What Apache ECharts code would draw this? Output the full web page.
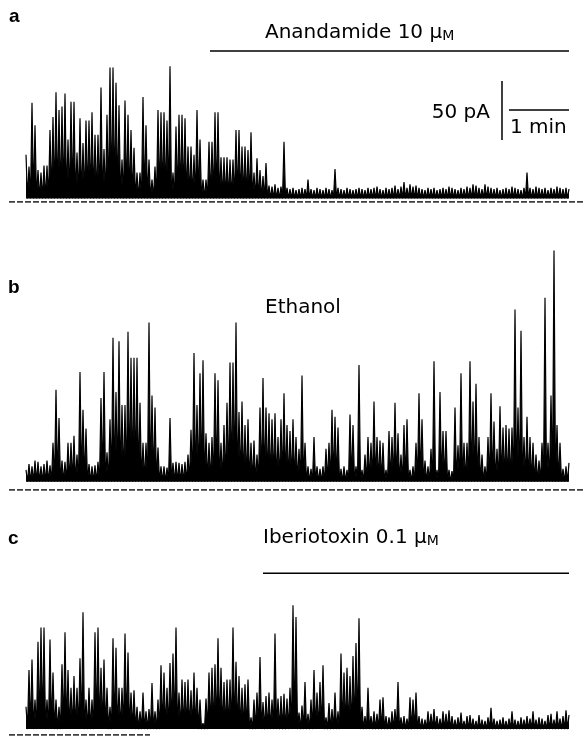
<!DOCTYPE html>
<html><head><meta charset="utf-8">
<script src="https://cdn.jsdelivr.net/npm/echarts@6/dist/echarts.min.js"></script>
<style>html,body{margin:0;padding:0;background:#fff}#c{width:585px;height:737px}</style>
</head><body><div id="c"></div>
<script>
// time step between read-off samples (s); current in pA
const sampleStep = 3;
const traceA = [40,30,84,65,27,25,31,31,61,72,93,78,81,92,53,85,85,42,71,50,
  69,69,76,57,57,97,45,74,114,114,101,82,36,86,74,61,46,25,25,89,
  65,36,19,30,78,76,76,69,115,25,64,74,74,71,47,47,40,78,53,19,
  19,51,51,76,76,38,38,38,36,36,61,61,47,47,44,59,25,37,27,22,
  33,14,13,15,12,13,51,12,11,12,10,11,12,11,19,11,10,12,11,10,
  12,11,10,28,12,11,10,12,11,10,11,12,11,10,12,11,12,13,11,10,
  12,11,12,14,11,13,17,12,15,13,14,12,11,10,12,11,12,10,11,12,
  11,13,12,11,10,12,11,13,12,15,14,12,11,15,13,12,11,12,10,11,
  12,11,13,12,11,10,12,25,12,11,13,12,11,12,10,12,11,13,12,11,12,11];
const traceB = [17,22,20,25,24,20,22,25,21,40,85,61,25,24,40,40,46,30,100,68,
  52,22,20,21,24,78,100,32,60,129,83,126,72,72,134,112,112,112,74,40,
  40,142,80,70,36,20,20,19,61,23,24,23,22,24,30,51,116,72,99,110,
  48,40,45,99,93,40,55,74,108,108,142,66,75,55,60,40,42,30,70,95,
  70,65,60,65,45,60,82,55,50,60,45,35,97,40,20,18,45,20,18,20,
  35,40,68,62,53,18,20,17,64,55,20,106,17,30,45,40,75,45,42,40,
  17,50,45,74,48,30,55,60,17,20,40,82,60,25,20,35,109,17,83,50,
  50,17,16,70,38,99,40,40,109,75,90,45,30,20,45,82,58,35,71,53,
  55,52,53,153,70,135,45,62,45,40,30,25,40,163,40,80,203,55,40,18,20,23];
const traceC = [24,55,64,30,79,91,91,30,81,53,30,24,60,87,55,40,50,40,65,104,
  30,40,30,87,91,57,64,40,24,82,74,40,40,86,70,36,38,24,20,36,
  20,22,44,20,30,59,53,40,61,69,91,36,47,45,47,38,53,40,30,10,
  31,53,57,60,82,57,45,47,47,91,62,50,40,43,47,15,30,36,66,28,
  33,36,30,86,31,33,35,31,40,110,100,19,25,45,18,30,55,36,45,59,
  15,27,22,36,20,69,53,57,50,67,78,99,24,16,40,16,20,18,30,32,
  16,15,20,22,45,15,16,14,32,30,36,16,14,13,20,18,22,16,14,20,
  18,21,16,13,15,19,12,16,17,14,12,17,13,12,15,23,14,12,13,15,
  12,14,20,13,12,15,13,16,14,20,13,15,14,12,17,18,13,20,14,16,21,17];
const noiseFloor = {a: 3, b: 7, c: 5};

// drug application bars (time span in s, level in pA)
const anandamideSpan = [184, 543];
const anandamideLevel = 128;
const iberiotoxinSpan = [237, 543];
const iberiotoxinLevel = 137;
// scale bar: 50 pA vertical, 1 min horizontal
const scaleBarTime = 476;
const scaleBarCurrent = [52.5, 102.5];
const scaleBarTimeSpan = [483, 543];
const scaleBarTimeLevel = 78;
// zero-current dashed reference lines
const zeroSpanAB = [-17, 559];
const zeroSpanC = [-17, 124];

const labels = {
  a: 'a', b: 'b', c: 'c',
  anandamide: 'Anandamide 10 μ', ethanol: 'Ethanol', iberiotoxin: 'Iberiotoxin 0.1 μ',
  unitM: 'M', scaleI: '50 pA', scaleT: '1 min'
};

const pxPerPA = 59 / 50;
const zeroY = {a: 202, b: 490, c: 735};
const yMax = {a: 140, b: 220, c: 140};

function zigzag(vals, floor) {
  const out = [];
  vals.forEach((v, i) => {
    const t = i * sampleStep;
    out.push([t, v]);
    if (i < vals.length - 1) out.push([t + sampleStep / 2, floor]);
  });
  return out;
}

const grids = ['a', 'b', 'c'].map(k => ({
  left: 0, right: 0,
  top: zeroY[k] - yMax[k] * pxPerPA,
  height: yMax[k] * pxPerPA
}));
const xAxes = [0, 1, 2].map(i => ({type: 'value', gridIndex: i, min: -26, max: 559, show: false}));
const yAxes = ['a', 'b', 'c'].map((k, i) => ({type: 'value', gridIndex: i, min: 0, max: yMax[k], show: false}));

function lineS(i, data, style, extra) {
  return Object.assign({type: 'line', xAxisIndex: i, yAxisIndex: i, data: data, showSymbol: false, symbol: 'none',
    silent: true, animation: false, lineStyle: Object.assign({color: '#000', width: 1}, style), z: 3}, extra || {});
}
function traceS(i, vals, floor) {
  return lineS(i, zigzag(vals, floor), {width: 1.2, join: 'bevel'},
    {areaStyle: {color: '#000', opacity: 1, origin: floor}});
}

const series = [
  traceS(0, traceA, noiseFloor.a),
  traceS(1, traceB, noiseFloor.b),
  traceS(2, traceC, noiseFloor.c),
  lineS(0, zeroSpanAB.map(t => [t, 0]), {type: [6, 2], width: 1.3}),
  lineS(1, zeroSpanAB.map(t => [t, 0]), {type: [6, 2], width: 1.3}),
  lineS(2, zeroSpanC.map(t => [t, 0]), {type: [6, 2], width: 1.3}),
  lineS(0, anandamideSpan.map(t => [t, anandamideLevel]), {width: 1.5}),
  lineS(2, iberiotoxinSpan.map(t => [t, iberiotoxinLevel]), {width: 1.5}),
  lineS(0, scaleBarCurrent.map(v => [scaleBarTime, v]), {width: 1.5}),
  lineS(0, scaleBarTimeSpan.map(t => [t, scaleBarTimeLevel]), {width: 1.5})
];

const F = '"DejaVu Sans", sans-serif';
function txt(x, y, text, opts) {
  return {type: 'text', x: x, y: y, silent: true,
    style: Object.assign({text: text, fill: '#000', font: '20px ' + F, verticalAlign: 'middle', align: 'left'}, opts || {})};
}
function drugText(x, y, main) {
  return {type: 'text', x: x, y: y, silent: true,
    style: {text: '{n|' + main + '}{s|' + labels.unitM + '}', verticalAlign: 'middle', align: 'left',
      rich: {n: {fontSize: 20, fontFamily: F, fill: '#000', verticalAlign: 'bottom'},
             s: {fontSize: 14, fontFamily: F, fill: '#000', verticalAlign: 'bottom'}}}};
}

const graphic = [
  txt(9, 17, labels.a, {font: 'bold 19px "Liberation Sans", sans-serif'}),
  txt(8, 288, labels.b, {font: 'bold 19px "Liberation Sans", sans-serif'}),
  txt(8, 539, labels.c, {font: 'bold 19px "Liberation Sans", sans-serif'}),
  drugText(265, 33, labels.anandamide),
  txt(265, 308, labels.ethanol),
  drugText(263, 538, labels.iberiotoxin),
  txt(490, 113, labels.scaleI, {align: 'right'}),
  txt(510, 128, labels.scaleT)
];

const chart = echarts.init(document.getElementById('c'), null, {renderer: 'canvas'});
chart.setOption({animation: false, backgroundColor: '#fff', grid: grids, xAxis: xAxes, yAxis: yAxes, series: series, graphic: graphic});
</script></body></html>
